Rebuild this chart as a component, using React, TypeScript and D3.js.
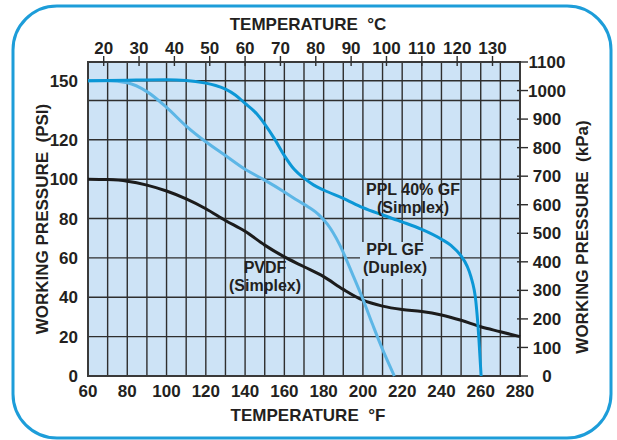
import React from "react";
import * as d3 from "d3";

const W = 617;
const H = 440;

// axis ticks
const fLabels = [60, 80, 100, 120, 140, 160, 180, 200, 220, 240, 260, 280];
const cLabels = [20, 30, 40, 50, 60, 70, 80, 90, 100, 110, 120, 130];
const psiLabels = [0, 20, 40, 60, 80, 100, 120, 150];
const psiGrid = [20, 40, 60, 80, 100, 120, 140, 150];
const kpaLabels = [0, 100, 200, 300, 400, 500, 600, 700, 800, 900, 1000, 1100];

// curves: [°F, psi]
const ppl40: [number, number][] = [
  [60, 150], [80, 150.3], [100, 150.5], [110, 150.2], [120, 148.8], [125, 147.6],
  [130, 145.8], [135, 142.8], [140, 138.5], [145, 134.2], [150, 128], [155, 120.5],
  [160, 112], [165, 105], [170, 100.5], [175, 97], [180, 94.5], [190, 90.3],
  [200, 85.5], [210, 81.8], [220, 78.3], [230, 74.5], [240, 69.5], [245, 66.2],
  [250, 61], [253, 56], [255, 50.5], [257.5, 38], [259, 20], [260.2, 0],
];
const pplGF: [number, number][] = [
  [60, 150], [70, 150], [80, 149], [90, 144.5], [100, 136.5], [110, 127],
  [120, 119], [130, 112], [140, 105], [150, 99.5], [160, 93.5], [167, 89],
  [172, 86], [178, 81.5], [182, 77], [188, 67], [195, 51], [200, 39],
  [205, 26], [210, 13.5], [216, 0],
];
const pvdf: [number, number][] = [
  [60, 100], [70, 99.8], [80, 99], [90, 97], [100, 94], [110, 90], [120, 85],
  [130, 79], [140, 73.5], [150, 66.5], [160, 60.5], [170, 55.5], [180, 50.5],
  [190, 44], [200, 38.5], [210, 35.5], [220, 33.8], [230, 32.8], [240, 31],
  [250, 28.3], [260, 25], [270, 22.5], [280, 20],
];

const KPA_PER_PSI = 6.894757;
const FONT = "'Liberation Sans', Arial, Helvetica, sans-serif";
const INK = "#231f20";

const x = d3.scaleLinear().domain([60, 280]).range([88, 520]);
const y = d3.scaleLinear().domain([0, 1100 / KPA_PER_PSI]).range([376, 62]);
const cToF = (c: number) => (c * 9) / 5 + 32;

const line = d3
  .line<[number, number]>()
  .x((d) => x(d[0]))
  .y((d) => y(d[1]))
  .curve(d3.curveMonotoneX);

function Chart() {
  const [x0, x1] = x.range();
  const [yb, yt] = y.range();
  const fGrid = x.ticks(22).filter((v) => v > 60 && v < 280);
  const txt = { fontFamily: FONT, fontWeight: 700, fontSize: 17, fill: INK };
  const lbl = { ...txt, fontSize: 16 };

  return (
    <svg width={W} height={H} style={{ position: "absolute", left: 0, top: 0, background: "#fff" }}>
      <rect x={13} y={6} width={598} height={432} rx={44} fill="#fff" stroke="#1d9dd9" strokeWidth={3} />

      <rect x={x0} y={yt} width={x1 - x0} height={yb - yt} fill="#cde3f6" />

      {fGrid.map((f) => (
        <line key={"v" + f} x1={x(f)} x2={x(f)} y1={yt} y2={yb} stroke="#2e2e2e" strokeWidth={1.4} />
      ))}
      {psiGrid.map((p) => (
        <line key={"h" + p} x1={x0} x2={x1} y1={y(p)} y2={y(p)} stroke="#2e2e2e" strokeWidth={1.4} />
      ))}

      <rect x={x0} y={yt} width={x1 - x0} height={yb - yt} fill="none" stroke="#3a3a3a" strokeWidth={2} />

      {/* top °C ticks */}
      {cLabels.map((c) => (
        <g key={"c" + c}>
          <line x1={x(cToF(c))} x2={x(cToF(c))} y1={yt - 6} y2={yt + 4} stroke="#2e2e2e" strokeWidth={1.4} />
          <text x={x(cToF(c))} y={54} textAnchor="middle" {...txt}>{c}</text>
        </g>
      ))}
      <text x={308} y={30} textAnchor="middle" {...txt}>TEMPERATURE{"\u00a0 "}°C</text>

      {/* bottom °F */}
      {fLabels.map((f) => (
        <text key={"f" + f} x={x(f)} y={397} textAnchor="middle" {...txt}>{f}</text>
      ))}
      <text x={308} y={421} textAnchor="middle" {...txt}>TEMPERATURE{"\u00a0 "}°F</text>

      {/* left psi */}
      {psiLabels.map((p) => (
        <text key={"p" + p} x={78} y={y(p)} dy="0.36em" textAnchor="end" {...txt}>{p}</text>
      ))}
      <text transform={`translate(48,219) rotate(-90)`} textAnchor="middle" {...txt}>
        WORKING PRESSURE{"\u00a0 "}(PSI)
      </text>

      {/* right kPa */}
      {kpaLabels.map((k) => (
        <g key={"k" + k}>
          <line x1={x1 - 3} x2={x1 + 8} y1={y(k / KPA_PER_PSI)} y2={y(k / KPA_PER_PSI)} stroke="#2e2e2e" strokeWidth={1.4} />
          <text x={547} y={y(k / KPA_PER_PSI)} dy="0.36em" textAnchor="middle" {...txt}>{k}</text>
        </g>
      ))}
      <text transform={`translate(588,237) rotate(-90)`} textAnchor="middle" {...txt}>
        WORKING PRESSURE{"\u00a0 "}(kPa)
      </text>

      {/* curves */}
      <path d={line(pvdf) || ""} fill="none" stroke="#1c1c1c" strokeWidth={3} />
      <path d={line(pplGF) || ""} fill="none" stroke="#5cb6e6" strokeWidth={3} />
      <path d={line(ppl40) || ""} fill="none" stroke="#0b97d6" strokeWidth={3} />

      {/* labels */}
      <text x={413} y={195} textAnchor="middle" {...lbl}>PPL 40% GF</text>
      <text x={413} y={213} textAnchor="middle" {...lbl}>(Simplex)</text>

      <rect x={360} y={242} width={70} height={37} fill="#cde3f6" />
      <text x={395} y={255} textAnchor="middle" {...lbl}>PPL GF</text>
      <text x={395} y={273} textAnchor="middle" {...lbl}>(Duplex)</text>

      <text x={265} y={273} textAnchor="middle" {...lbl}>PVDF</text>
      <text x={265} y={291} textAnchor="middle" {...lbl}>(Simplex)</text>
    </svg>
  );
}

export default function App() {
  return <Chart />;
}
